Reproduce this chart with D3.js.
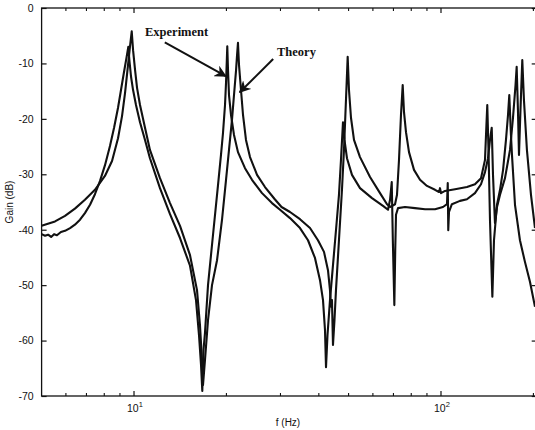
<!DOCTYPE html>
<html>
  <head>
    <meta charset="utf-8">
    <title>Gain vs frequency</title>
    <script src="https://cdn.jsdelivr.net/npm/d3@7"></script>
    <style>
      html, body { margin: 0; padding: 0; background: #fff; }
      #chart { width: 535px; height: 430px; overflow: hidden; }
      .tick text, .lbl { font-family: "Liberation Sans", Arial, sans-serif; fill: #111; }
      .note { font-family: "Liberation Serif", "Times New Roman", serif; font-weight: bold; font-size: 12.5px; fill: #111; }
    </style>
  </head>
  <body>
    <div id="chart"></div>
    <script>
      // values
      var expFreq = [5.0, 5.13, 5.25, 5.37, 5.49, 5.61, 5.78, 5.96, 6.19, 6.42, 6.67, 6.92, 7.19, 7.46, 7.75, 8.04, 8.35, 8.61, 8.87, 9.07, 9.28, 9.45, 9.58,
                     9.67, 9.78, 9.93, 10.15, 10.46, 10.86, 11.27, 12.15, 13.10, 14.12, 15.22, 15.92, 16.28, 16.53, 16.69,
                     16.84, 17.03, 17.42, 18.08, 18.78, 19.20, 19.49, 19.79, 19.94, 20.06, 20.13,
                     20.24, 20.39, 20.70, 21.17, 21.81, 22.99, 24.23, 26.12, 28.15, 29.90, 32.22, 34.73, 36.88, 38.86, 40.35, 41.27, 41.89, 42.21,
                     42.69, 43.49, 44.48, 45.49, 46.52, 47.23, 47.94, 48.48, 49.40, 51.29, 54.47, 59.60, 64.73, 67.20,
                     68.24, 69.11, 69.68, 70.47, 70.95, 71.36, 72.44, 76.34, 82.28, 88.74, 95.60, 101.5, 104.6, 105.2, 105.6, 106.2, 108.5,
                     115.3, 121.5, 129.0, 135.0, 139.1, 142.3, 144.4, 146.3, 147.7, 149.9, 152.2, 155.7, 161.6, 167.8, 171.6, 174.9, 176.4,
                     178.1, 179.5, 181.5, 184.0, 186.3, 190.5, 196.4, 202.4];
      var expGain = [-40.8, -41.1, -40.9, -41.3, -40.8, -41.0, -40.4, -40.2, -39.7, -39.1, -38.2, -37.0, -35.5, -33.6, -31.2, -28.4, -24.9, -21.6, -18.0, -14.8, -11.5, -9.0, -7.0,
                     -9.7, -12.4, -14.8, -17.5, -20.6, -23.8, -27.1, -32.5, -37.2, -41.5, -46.5, -52.7, -59.0, -64.4, -69.1,
                     -61.7, -58.6, -50.0, -41.0, -31.9, -26.5, -22.6, -17.5, -13.5, -9.4, -6.9,
                     -11.2, -15.7, -19.3, -22.9, -26.0, -28.9, -31.0, -33.4, -35.2, -36.4, -37.9, -39.7, -41.9, -45.1, -49.1, -52.7, -58.1, -64.8,
                     -59.0, -52.7, -46.4, -40.1, -33.7, -27.4, -20.6, -23.8, -27.1, -30.1, -32.5, -34.3, -35.7, -36.4,
                     -34.6, -31.4, -41.9, -53.6, -43.7, -37.3, -36.1, -35.9, -36.1, -36.3, -36.3, -35.9, -35.4, -31.6, -40.1, -36.8, -35.4,
                     -34.8, -34.5, -33.4, -31.8, -29.6, -27.1, -23.8, -21.6, -30.1, -38.8, -35.9, -33.7, -30.7, -25.6, -19.8, -13.9, -10.6,
                     -18.4, -26.5, -18.4, -9.4, -16.6, -25.6, -33.7, -39.7];

      var thFreq = [5.0, 5.53, 5.96, 6.42, 6.92, 7.46, 8.04, 8.48, 8.87, 9.14, 9.35, 9.56, 9.70, 9.83,
                    9.93, 10.08, 10.23, 10.46, 10.86, 11.27, 12.15, 13.10, 14.12, 15.22, 16.04, 16.40, 16.65, 16.78,
                    17.03, 17.42, 17.95, 18.64, 19.35, 19.94, 20.39, 20.85, 21.17, 21.50, 21.66, 21.81,
                    21.98, 22.31, 22.65, 23.16, 23.87, 25.16, 26.71, 28.75, 30.24, 32.22, 34.73, 37.44, 39.74, 41.58, 42.84, 43.49, 43.81, 44.14, 44.48,
                    44.98, 45.49, 46.52, 47.58, 48.30, 49.03, 49.66, 50.15, 50.91, 52.07, 54.47, 58.72, 63.30, 66.70, 68.24, 70.84,
                    71.90, 72.98, 74.07, 75.03, 75.77, 76.91, 78.66, 81.67, 85.43, 90.03, 95.60, 98.52, 99.25, 100.0, 103.05,
                    111.1, 121.5, 129.0, 135.0, 139.1, 140.6, 141.5, 142.8, 144.4, 147.0, 148.8, 152.2, 155.7, 159.3, 162.8, 165.3, 166.9,
                    169.0, 170.3, 174.2, 180.8, 187.7, 194.9, 202.4];
      var thGain = [-39.3, -38.5, -37.5, -36.2, -34.6, -32.8, -30.3, -27.6, -23.5, -19.5, -15.3, -10.3, -7.0, -4.2,
                    -7.6, -11.2, -14.4, -17.5, -21.6, -25.6, -30.7, -35.2, -39.3, -44.6, -50.9, -57.2, -63.5, -68.0,
                    -63.5, -56.3, -50.0, -45.5, -38.2, -31.0, -25.6, -20.2, -15.7, -11.2, -8.5, -6.3,
                    -10.3, -14.8, -19.3, -23.8, -26.9, -30.1, -32.3, -34.5, -35.9, -36.8, -38.1, -39.7, -41.9, -44.0, -47.3, -50.9, -53.9, -52.7, -60.8,
                    -56.3, -50.9, -41.9, -32.8, -25.6, -16.6, -8.8, -14.8, -19.8, -23.8, -26.9, -30.5, -33.4, -35.4, -35.9, -35.4,
                    -33.7, -27.4, -19.3, -13.9, -18.8, -22.4, -26.0, -29.2, -31.0, -32.1, -32.8, -33.2, -32.5, -33.4, -33.0,
                    -32.7, -32.3, -31.8, -30.7, -27.4, -21.1, -17.5, -25.6, -38.2, -52.1, -41.9, -35.5, -32.8, -29.2, -23.8, -19.3, -15.7,
                    -22.9, -26.5, -35.5, -41.9, -45.8, -49.4, -53.9];

      var yTicks = [0, -10, -20, -30, -40, -50, -60, -70];
      var xMajor = [10, 100];
      var xMinor = [6, 7, 8, 9, 20, 30, 40, 50, 60, 70, 80, 90, 200];
      var xLabels = ["1", "2"];

      var W = 535, H = 430;
      var mL = 41.6, mR = 536.7, mT = 8, mB = 396;

      var svg = d3.select("#chart").append("svg")
        .attr("width", W).attr("height", H);

      var x = d3.scaleLog().domain([5, 205]).range([mL, mR]);
      var y = d3.scaleLinear().domain([-70, 0]).range([mB, mT]);

      svg.append("clipPath").attr("id", "plotclip")
        .append("rect").attr("x", mL).attr("y", mT - 2)
        .attr("width", mR - mL).attr("height", mB - mT + 4);

      // frame
      svg.append("rect")
        .attr("x", mL).attr("y", mT)
        .attr("width", mR - mL).attr("height", mB - mT)
        .attr("fill", "none").attr("stroke", "#111").attr("stroke-width", 1.3);

      // y ticks, both sides, pointing inwards (plain hyphen as minus, like the scan)
      var yAxisL = d3.axisLeft(y).tickValues(yTicks).tickSizeInner(-5).tickSizeOuter(0).tickPadding(8)
        .tickFormat(function(d) { return String(d); });
      var gy = svg.append("g").attr("transform", "translate(" + mL + ",0)").call(yAxisL);
      gy.select(".domain").remove();
      gy.selectAll("line").attr("stroke", "#111").attr("stroke-width", 1.2);
      gy.selectAll("text").attr("font-size", 10.5);

      var yAxisR = d3.axisRight(y).tickValues(yTicks).tickSizeInner(-5).tickSizeOuter(0).tickFormat("");
      var gyr = svg.append("g").attr("transform", "translate(" + mR + ",0)").call(yAxisR);
      gyr.select(".domain").remove();
      gyr.selectAll("line").attr("stroke", "#111").attr("stroke-width", 1.2);

      // x ticks, bottom and top
      function xTicks(yPos, dir) {
        var g = svg.append("g");
        g.selectAll("line.maj").data(xMajor).enter().append("line")
          .attr("x1", function(d) { return x(d); }).attr("x2", function(d) { return x(d); })
          .attr("y1", yPos).attr("y2", yPos + dir * 5)
          .attr("stroke", "#111").attr("stroke-width", 1.2);
        g.selectAll("line.min").data(xMinor).enter().append("line")
          .attr("x1", function(d) { return x(d); }).attr("x2", function(d) { return x(d); })
          .attr("y1", yPos).attr("y2", yPos + dir * 3)
          .attr("stroke", "#111").attr("stroke-width", 1.1);
      }
      xTicks(mB, -1);
      xTicks(mT, 1);

      var xl = svg.append("g");
      xMajor.forEach(function(d, i) {
        var t = xl.append("text").attr("class", "lbl")
          .attr("x", x(d) - 7).attr("y", mB + 16)
          .attr("font-size", 10.5);
        t.append("tspan").text("10");
        t.append("tspan").attr("dy", -5).attr("font-size", 7.5).text(xLabels[i]);
      });

      svg.append("text").attr("class", "lbl")
        .attr("x", 288).attr("y", mB + 30)
        .attr("text-anchor", "middle").attr("font-size", 10)
        .text("f (Hz)");

      svg.append("text").attr("class", "lbl")
        .attr("transform", "translate(13," + ((mT + mB) / 2) + ") rotate(-90)")
        .attr("text-anchor", "middle").attr("font-size", 10)
        .text("Gain (dB)");

      // curves
      var line = d3.line()
        .x(function(d) { return x(d[0]); })
        .y(function(d) { return y(d[1]); });

      var expData = d3.zip(expFreq, expGain);
      var thData = d3.zip(thFreq, thGain);

      var plot = svg.append("g").attr("clip-path", "url(#plotclip)");
      [expData, thData].forEach(function(data) {
        plot.append("path").datum(data)
          .attr("d", line)
          .attr("fill", "none")
          .attr("stroke", "#111")
          .attr("stroke-width", 2.1)
          .attr("stroke-linejoin", "round");
      });

      // annotations
      var defs = svg.append("defs");
      defs.append("marker").attr("id", "head")
        .attr("viewBox", "0 0 10 10").attr("refX", 9).attr("refY", 5)
        .attr("markerWidth", 6).attr("markerHeight", 6)
        .attr("orient", "auto")
        .append("path").attr("d", "M0,0 L10,5 L0,10 L3,5 Z").attr("fill", "#111");

      svg.append("text").attr("class", "note").attr("x", 145).attr("y", 36).text("Experiment");
      svg.append("text").attr("class", "note").attr("x", 277).attr("y", 56).text("Theory");

      svg.append("line")
        .attr("x1", x(12.6)).attr("y1", y(-6.2))
        .attr("x2", x(19.9)).attr("y2", y(-12.3))
        .attr("stroke", "#111").attr("stroke-width", 2)
        .attr("marker-end", "url(#head)");
      svg.append("line")
        .attr("x1", x(28.4)).attr("y1", y(-9.2))
        .attr("x2", x(22.1)).attr("y2", y(-15.2))
        .attr("stroke", "#111").attr("stroke-width", 2)
        .attr("marker-end", "url(#head)");
    </script>
  </body>
</html>
